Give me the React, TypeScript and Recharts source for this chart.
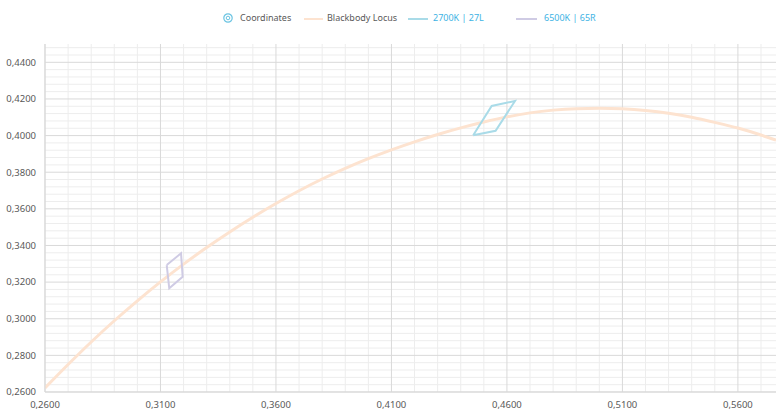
import React from 'react';
import { ComposedChart, Line, XAxis, YAxis, ReferenceLine } from 'recharts';

// Blackbody (Planckian) locus
const locusX = [
  0.26, 0.27, 0.28, 0.29, 0.3, 0.31, 0.32, 0.33, 0.34, 0.35, 0.36, 0.37, 0.38, 0.39, 0.4, 0.41,
  0.42, 0.43, 0.44, 0.45, 0.46, 0.47, 0.48, 0.49, 0.5, 0.51, 0.52, 0.53, 0.54, 0.55, 0.56, 0.57,
  0.5765,
];
const locusY = [
  0.2622, 0.275, 0.2873, 0.2989, 0.3098, 0.3201, 0.3298, 0.3389, 0.3474, 0.3554, 0.3629, 0.3699,
  0.3763, 0.3821, 0.3874, 0.3922, 0.3966, 0.4006, 0.4042, 0.4074, 0.4102, 0.4124, 0.4139, 0.4147,
  0.4149, 0.4146, 0.4137, 0.4122, 0.41, 0.4072, 0.4041, 0.4003, 0.3975,
];

// 2700K | 27L quadrangle (closed)
const q2700X = [0.4454, 0.4534, 0.4635, 0.4551, 0.4454];
const q2700Y = [0.4002, 0.4162, 0.4189, 0.4026, 0.4002];

// 6500K | 65R quadrangle (closed)
const q6500X = [0.3127, 0.3189, 0.3196, 0.3138, 0.3127];
const q6500Y = [0.3293, 0.3357, 0.3229, 0.3166, 0.3293];

const xTicks = [0.26, 0.31, 0.36, 0.41, 0.46, 0.51, 0.56];
const yTicks = [0.26, 0.28, 0.3, 0.32, 0.34, 0.36, 0.38, 0.4, 0.42, 0.44];
const xMinor = [
  0.27, 0.28, 0.29, 0.3, 0.32, 0.33, 0.34, 0.35, 0.37, 0.38, 0.39, 0.4, 0.42, 0.43, 0.44, 0.45,
  0.47, 0.48, 0.49, 0.5, 0.52, 0.53, 0.54, 0.55, 0.57,
];
const yMinor = [
  0.264, 0.268, 0.272, 0.276, 0.284, 0.288, 0.292, 0.296, 0.304, 0.308, 0.312, 0.316, 0.324,
  0.328, 0.332, 0.336, 0.344, 0.348, 0.352, 0.356, 0.364, 0.368, 0.372, 0.376, 0.384, 0.388,
  0.392, 0.396, 0.404, 0.408, 0.412, 0.416, 0.424, 0.428, 0.432, 0.436, 0.444, 0.448,
];

const toPoints = (xs: number[], ys: number[]) => xs.map((x, i) => ({ x, y: ys[i] }));

const locusData = toPoints(locusX, locusY);
const q2700Data = toPoints(q2700X, q2700Y);
const q6500Data = toPoints(q6500X, q6500Y);

const fmt = (v: number) => v.toFixed(4).replace('.', ',');

const FONT = '"Noto Sans", "Open Sans", sans-serif';
const LOCUS = '#fde3d0';
const C2700 = '#a9dbe8';
const C6500 = '#cfcbe4';

function LegendRow() {
  const text: React.CSSProperties = {
    position: 'absolute',
    top: 11,
    fontSize: 9,
    lineHeight: '14px',
    color: '#595959',
    fontFamily: FONT,
    whiteSpace: 'nowrap',
  };
  const blue = { ...text, color: '#3eb3e4' };
  const line = (c: string, left: number, width: number) => (
    <span style={{ position: 'absolute', top: 18, left, width, height: 2, background: c }} />
  );
  return (
    <div style={{ position: 'absolute', top: 0, left: 0, width: 776, height: 40 }}>
      <svg width={12} height={12} style={{ position: 'absolute', left: 222, top: 12 }}>
        <circle cx={6} cy={6} r={4.2} fill="none" stroke="#6cc4e2" strokeWidth={1.2} />
        <circle cx={6} cy={6} r={1.8} fill="none" stroke="#6cc4e2" strokeWidth={1} />
      </svg>
      <span style={{ ...text, left: 240 }}>Coordinates</span>
      {line(LOCUS, 304, 19)}
      <span style={{ ...text, left: 327 }}>Blackbody Locus</span>
      {line(C2700, 408, 20)}
      <span style={{ ...blue, left: 433 }}>2700K | 27L</span>
      {line(C6500, 516, 21)}
      <span style={{ ...blue, left: 544 }}>6500K | 65R</span>
    </div>
  );
}

export default function App() {
  return (
    <div style={{ position: 'absolute', left: 0, top: 0, width: 776, height: 412, background: '#fff' }}>
      <LegendRow />
      <ComposedChart width={776} height={412} margin={{ top: 44, right: 0, bottom: 0, left: 0 }}>
        <XAxis
          type="number"
          dataKey="x"
          domain={[0.26, 0.5765]}
          ticks={xTicks}
          tickFormatter={fmt}
          allowDataOverflow
          height={20}
          tickSize={0}
          tickMargin={9}
          axisLine={{ stroke: '#d9d9d9' }}
          tick={{ fontSize: 9.5, fill: '#595959', fontFamily: FONT }}
        />
        <YAxis
          type="number"
          dataKey="y"
          domain={[0.26, 0.45]}
          ticks={yTicks}
          tickFormatter={fmt}
          allowDataOverflow
          width={45}
          tickSize={0}
          tickMargin={9}
          axisLine={{ stroke: '#d9d9d9' }}
          tick={{ fontSize: 9.5, fill: '#595959', fontFamily: FONT }}
        />
        {xMinor.map((v) => (
          <ReferenceLine key={`xm${v}`} x={v} stroke="#ededed" strokeWidth={1} />
        ))}
        {yMinor.map((v) => (
          <ReferenceLine key={`ym${v}`} y={v} stroke="#ededed" strokeWidth={1} />
        ))}
        {xTicks.map((v) => (
          <ReferenceLine key={`xM${v}`} x={v} stroke="#d9d9d9" strokeWidth={1} />
        ))}
        {yTicks.map((v) => (
          <ReferenceLine key={`yM${v}`} y={v} stroke="#d9d9d9" strokeWidth={1} />
        ))}
        <Line
          data={locusData}
          dataKey="y"
          type="monotone"
          stroke={LOCUS}
          strokeWidth={3}
          dot={false}
          activeDot={false}
          isAnimationActive={false}
        />
        <Line
          data={q2700Data}
          dataKey="y"
          type="linear"
          stroke={C2700}
          strokeWidth={2}
          dot={false}
          activeDot={false}
          isAnimationActive={false}
        />
        <Line
          data={q6500Data}
          dataKey="y"
          type="linear"
          stroke={C6500}
          strokeWidth={2}
          dot={false}
          activeDot={false}
          isAnimationActive={false}
        />
      </ComposedChart>
    </div>
  );
}
